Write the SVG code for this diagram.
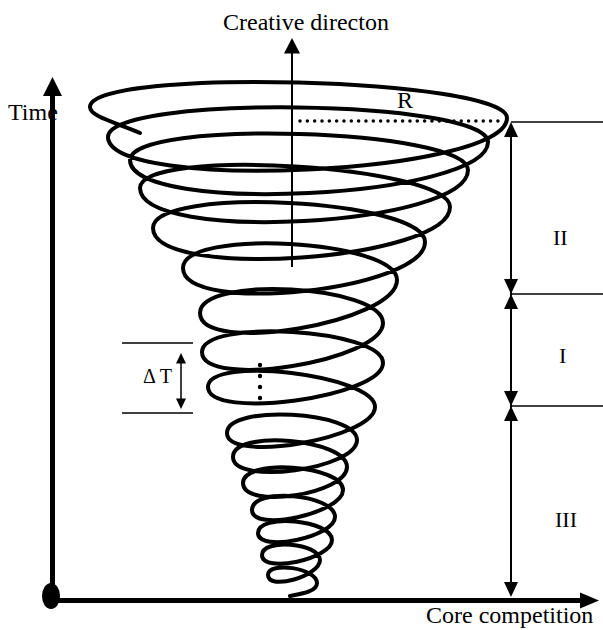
<svg xmlns="http://www.w3.org/2000/svg" width="603" height="630" viewBox="0 0 603 630">
<style>
text { font-family: "Liberation Serif", "Times New Roman", serif; fill: #000; }
.lbl { font-size: 24px; }
.rom { font-size: 22px; }
.thin { stroke: #000; stroke-width: 1.5; fill: none; }
.dim { stroke: #000; stroke-width: 2; fill: none; }
.ah { fill: #000; stroke: none; }
.spiral { stroke: #000; stroke-width: 4; fill: none; stroke-linecap: round; stroke-linejoin: round; }
</style>
<rect width="603" height="630" fill="#fff"/>
<g id="spiral">
<path class="spiral" d="M140,133 C118,123 90,117 90,107
C90,67 507,78 507,118
C507,174 108,193 108,137
C108,94.3 488,99.3 488,142
C488,198 130,216 130,160
C130,118.7 468,128.7 468,170
C468,226 140,244 140,188
C140,146.7 450,165.7 450,207
C450,260.3 153,281.3 153,228
C153,185.3 425,199.3 425,242
C425,290 183,316 183,268
C183,228 397,240 397,280
C397,322.7 200,355.7 200,313
C200,275 383,285 383,323
C383,361 202,390 202,352
C202,318 383,329 383,363
C383,397 208,421 208,387
C208,355 375,375 375,407
C375,438 227,464 227,433
C227,404 357,411 357,440
C357,469 233,486 233,457
C233,429 347,439 347,467
C347,494 243,510 243,483
C243,458 343,465 343,490
C343,513 252,533 252,510
C252,487 335,494 335,517
C335,537 258,553 258,533
C258,513 332,520 332,540
C332,559 262,574 262,555
C262,538 320,543 320,560
C320,576 268,591 268,575
C268,561 317,568 317,583
C317,592 300,594 290,596"/>
</g>
<g id="connectors">
<line x1="52.5" y1="600" x2="52.5" y2="94" stroke="#000" stroke-width="5"/>
<polygon class="ah" points="43,96 52.5,77 62,96"/>
<line x1="45" y1="600.5" x2="582" y2="600.5" stroke="#000" stroke-width="5"/>
<polygon class="ah" points="580,592.5 599,600.5 580,608.5"/>
<ellipse cx="51" cy="596" rx="9" ry="13" fill="#000"/>
<line x1="292" y1="52" x2="292" y2="267" stroke="#000" stroke-width="2"/>
<polygon class="ah" points="284,53.5 292,38 300,53.5"/>
<line x1="300" y1="121" x2="498" y2="121" stroke="#000" stroke-width="3.5" stroke-linecap="round" stroke-dasharray="0 7.33"/>
<line class="thin" x1="122" y1="343" x2="193" y2="343"/>
<line class="thin" x1="122" y1="413" x2="193" y2="413"/>
<line class="thin" x1="181" y1="360" x2="181" y2="402"/>
<polygon class="ah" points="176,363.5 181,353 186,363.5"/>
<polygon class="ah" points="176,398.5 181,409 186,398.5"/>
<circle cx="260" cy="365" r="2.2"/>
<circle cx="260" cy="376" r="2.2"/>
<circle cx="260" cy="387" r="2.2"/>
<circle cx="260" cy="398" r="2.2"/>
<line class="thin" x1="511" y1="122" x2="603" y2="122"/>
<line class="thin" x1="511" y1="294" x2="603" y2="294"/>
<line class="thin" x1="511" y1="406" x2="603" y2="406"/>
<line class="dim" x1="511" y1="130" x2="511" y2="592"/>
<polygon class="ah" points="504,137 511,122 518,137"/>
<polygon class="ah" points="504,279 511,294 518,279"/>
<polygon class="ah" points="504,309 511,294 518,309"/>
<polygon class="ah" points="504,391 511,406 518,391"/>
<polygon class="ah" points="504,421 511,406 518,421"/>
<polygon class="ah" points="504,582 511,597 518,582"/>
</g>
<g id="labels">
<text class="lbl" x="223" y="30">Creative directon</text>
<text class="lbl" x="8" y="120">Time</text>
<text class="lbl" x="397" y="108">R</text>
<text class="lbl" x="426" y="623">Core competition</text>
<text x="143" y="383" style="font-size:20px">Δ T</text>
<text class="rom" x="553" y="245">II</text>
<text class="rom" x="559" y="363">I</text>
<text class="rom" x="555" y="527">III</text>
</g>
</svg>
